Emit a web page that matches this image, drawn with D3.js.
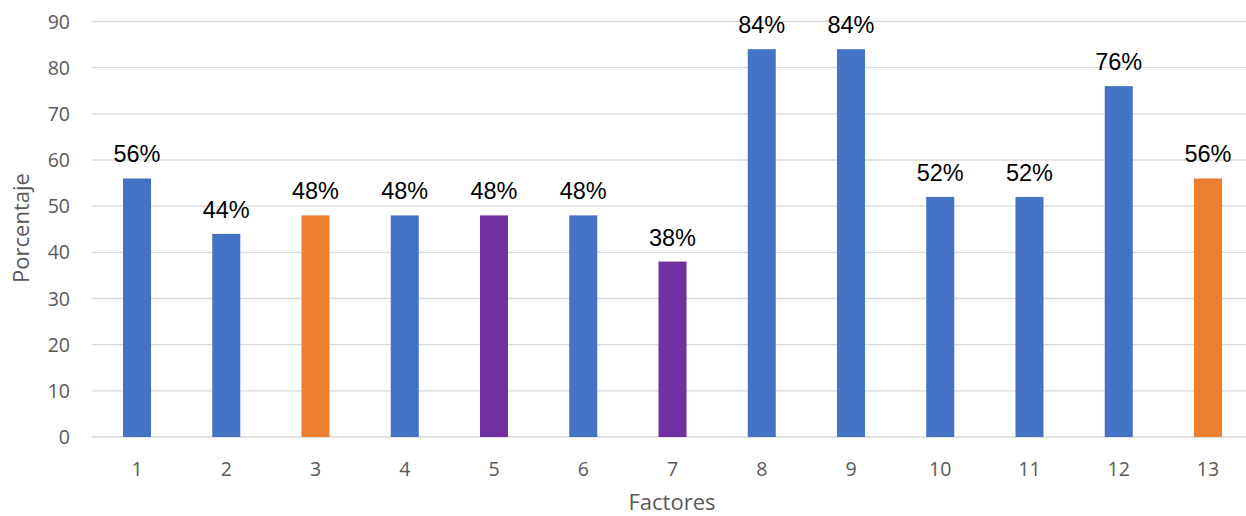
<!DOCTYPE html>
<html><head><meta charset="utf-8">
<script src="https://cdn.jsdelivr.net/npm/d3@7"></script>
<style>body{margin:0;background:#fff}svg{display:block}</style>
</head><body>
<svg id="c" width="1246" height="516"></svg>
<script>
const categories = ["1","2","3","4","5","6","7","8","9","10","11","12","13"];
const values = [56,44,48,48,48,48,38,84,84,52,52,76,56];
const groups = ["a","a","b","a","c","a","c","a","a","a","a","a","b"];
const yTicks = [0,10,20,30,40,50,60,70,80,90];
const colorMap = {a:"#4472C4", b:"#ED7D31", c:"#7030A0"};

const svg = d3.select("#c");
const x = d3.scaleBand().domain(categories).range([92.4, 1252.6]).padding(0);
const y = d3.scaleLinear().domain([0,90]).range([437, 21.5]);
const barW = x.bandwidth()*0.314;

svg.append("g").selectAll("line").data(yTicks).join("line")
  .attr("x1", 92).attr("x2", 1246)
  .attr("y1", d=>y(d)).attr("y2", d=>y(d))
  .attr("stroke", "#d9d9d9").attr("stroke-width", 1.3);

svg.append("g").selectAll("text").data(yTicks).join("text")
  .attr("x", 70).attr("y", d=>y(d)).attr("dy","0.36em")
  .attr("text-anchor","end").attr("fill","#595959")
  .style("font","19.5px 'Open Sans', sans-serif").text(d=>d);

svg.append("g").selectAll("rect").data(values).join("rect")
  .attr("x",(d,i)=>x(categories[i])+x.bandwidth()/2-barW/2)
  .attr("width",barW)
  .attr("y",d=>y(d)).attr("height",d=>y(0)-y(d))
  .attr("fill",(d,i)=>colorMap[groups[i]]);

svg.append("g").selectAll("text").data(values).join("text")
  .attr("x",(d,i)=>x(categories[i])+x.bandwidth()/2)
  .attr("y",d=>y(d)-16)
  .attr("text-anchor","middle").attr("fill","#000")
  .style("font","23.5px 'Liberation Sans', Arial, sans-serif").text(d=>d+"%");

svg.append("g").selectAll("text").data(categories).join("text")
  .attr("x",d=>x(d)+x.bandwidth()/2).attr("y",476)
  .attr("text-anchor","middle").attr("fill","#595959")
  .style("font","19.5px 'Open Sans', sans-serif").text(d=>d);

svg.append("text").attr("x",672).attr("y",510)
  .attr("text-anchor","middle").attr("fill","#595959")
  .style("font","22px 'Open Sans', sans-serif").text("Factores");

svg.append("text").attr("transform","translate(29,228) rotate(-90)")
  .attr("text-anchor","middle").attr("fill","#595959")
  .style("font","22px 'Open Sans', sans-serif").text("Porcentaje");
</script>
</body></html>
